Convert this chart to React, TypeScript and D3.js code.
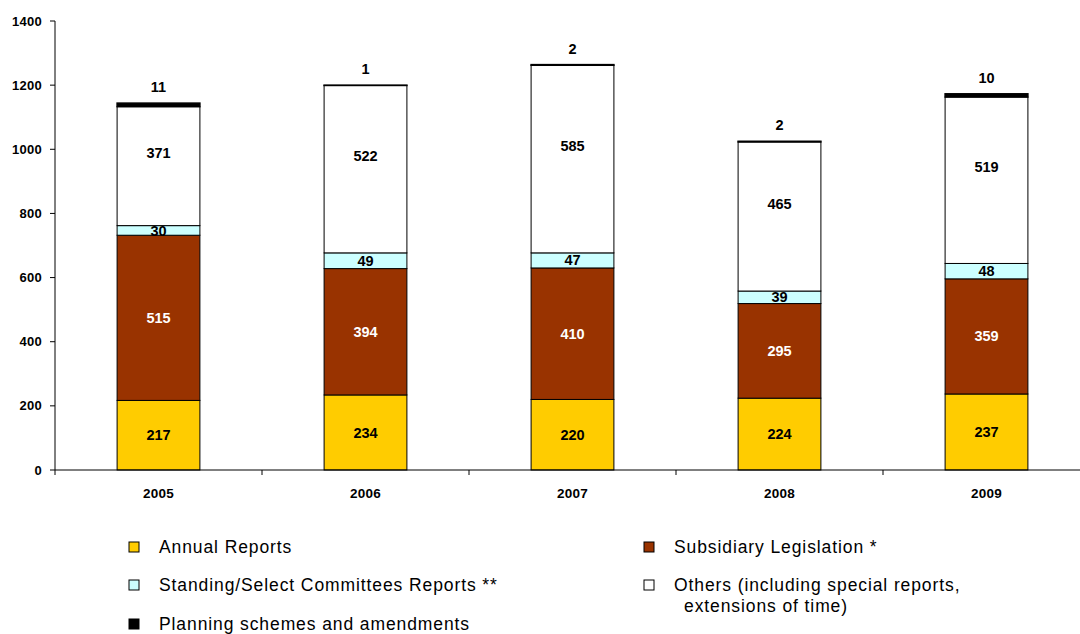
import React from "react";
import * as d3 from "d3";

const years = ["2005", "2006", "2007", "2008", "2009"];
const annualReports = [217, 234, 220, 224, 237];
const subsidiaryLegislation = [515, 394, 410, 295, 359];
const committeesReports = [30, 49, 47, 39, 48];
const others = [371, 522, 585, 465, 519];
const planningSchemes = [11, 1, 2, 2, 10];
const yTicks = [0, 200, 400, 600, 800, 1000, 1200, 1400];

const seriesDefs = [
  { key: "annual", name: "Annual Reports", values: annualReports, color: "#FFCC00", text: "#000" },
  { key: "subsid", name: "Subsidiary Legislation *", values: subsidiaryLegislation, color: "#993300", text: "#fff" },
  { key: "commit", name: "Standing/Select Committees Reports **", values: committeesReports, color: "#CCFFFF", text: "#000" },
  { key: "others", name: "Others (including special reports,", values: others, color: "#FFFFFF", text: "#000" },
  { key: "plan", name: "Planning schemes and amendments", values: planningSchemes, color: "#000000", text: "#000" },
];

export default function App() {
  const W = 1080, H = 634;
  const x0 = 55, x1 = 1090;
  const y = d3.scaleLinear().domain([0, 1400]).range([470, 21]);
  const x = d3.scaleBand().domain(years).range([x0, x1]).paddingInner(0.6).paddingOuter(0.3);
  const band = d3.scaleBand().domain(years).range([x0, x1]).padding(0);

  const rows = years.map((yr, i) => {
    const r: any = { year: yr };
    seriesDefs.forEach((s) => (r[s.key] = s.values[i]));
    return r;
  });
  const stack = d3.stack().keys(seriesDefs.map((s) => s.key))(rows as any);

  const font = "Arial, 'Liberation Sans', sans-serif";

  return (
    <svg width={W} height={H} style={{ position: "absolute", left: 0, top: 0, background: "#fff" }} fontFamily={font}>
      {/* bars */}
      {stack.map((layer, li) => {
        const s = seriesDefs[li];
        return (
          <g key={s.key}>
            {layer.map((d, i) => {
              const yr = years[i];
              const top = y(d[1]);
              const bot = y(d[0]);
              return (
                <rect
                  key={yr}
                  x={x(yr)!}
                  y={top}
                  width={x.bandwidth()}
                  height={Math.max(bot - top, 0)}
                  fill={s.color}
                  stroke="#000"
                  strokeWidth={s.key === "plan" ? 1.5 : 1}
                />
              );
            })}
          </g>
        );
      })}
      {/* labels */}
      {stack.map((layer, li) => {
        const s = seriesDefs[li];
        return (
          <g key={s.key + "-lbl"}>
            {layer.map((d, i) => {
              const yr = years[i];
              const cx = x(yr)! + x.bandwidth() / 2;
              let cy = (y(d[0]) + y(d[1])) / 2;
              if (s.key === "plan") cy = y(d[1]) - 16;
              if (s.key === "others") cy -= 13;
              return (
                <text
                  key={yr}
                  x={cx}
                  y={cy}
                  dy="0.35em"
                  textAnchor="middle"
                  fontSize={14.5}
                  fontWeight="bold"
                  fill={s.text}
                >
                  {s.values[i]}
                </text>
              );
            })}
          </g>
        );
      })}
      {/* y axis */}
      <line x1={x0} x2={x0} y1={y(1400)} y2={y(0)} stroke="#000" />
      {yTicks.map((t) => (
        <g key={t}>
          <line x1={x0 - 5} x2={x0} y1={y(t)} y2={y(t)} stroke="#000" />
          <text x={42} y={y(t)} dy="0.35em" textAnchor="end" fontSize={13} fontWeight="bold" letterSpacing={0.3}>
            {t}
          </text>
        </g>
      ))}
      {/* x axis */}
      <line x1={x0} x2={x1} y1={y(0)} y2={y(0)} stroke="#000" />
      {years.map((yr) => (
        <g key={yr}>
          <line x1={band(yr)!} x2={band(yr)!} y1={y(0)} y2={y(0) + 5} stroke="#000" />
          <text x={x(yr)! + x.bandwidth() / 2} y={493} dy="0.35em" textAnchor="middle" fontSize={13.5} fontWeight="bold" letterSpacing={0.3}>
            {yr}
          </text>
        </g>
      ))}
      {/* legend */}
      {[
        { s: seriesDefs[0], lx: 129, ly: 547 },
        { s: seriesDefs[1], lx: 644, ly: 547 },
        { s: seriesDefs[2], lx: 129, ly: 585 },
        { s: seriesDefs[3], lx: 644, ly: 585 },
        { s: seriesDefs[4], lx: 129, ly: 624 },
      ].map(({ s, lx, ly }) => (
        <g key={s.key + "-leg"}>
          <rect x={lx} y={ly - 5} width={10} height={10} fill={s.color} stroke="#000" strokeWidth={1} />
          <text x={lx + 30} y={ly} dy="0.35em" fontSize={17.5} letterSpacing={0.9}>
            {s.name}
          </text>
        </g>
      ))}
      <text x={684} y={606} dy="0.35em" fontSize={17.5} letterSpacing={0.9}>
        extensions of time)
      </text>
    </svg>
  );
}
